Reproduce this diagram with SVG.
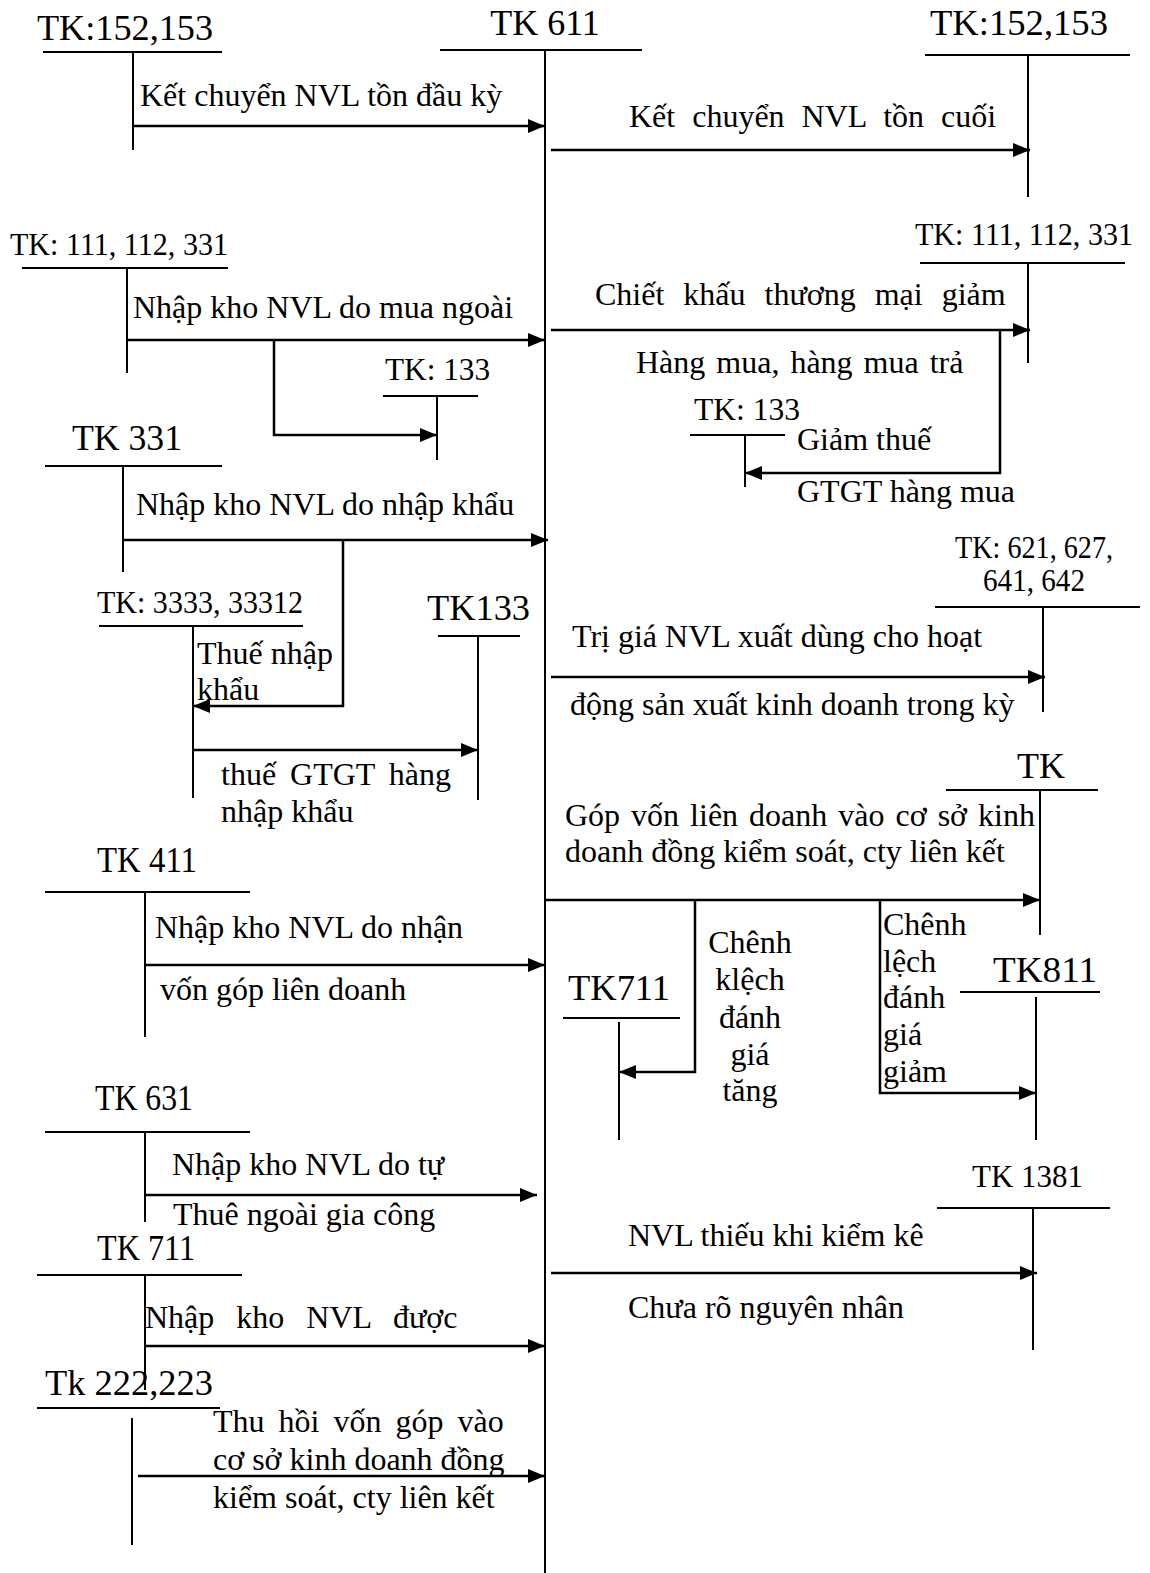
<svg xmlns="http://www.w3.org/2000/svg" width="1150" height="1573" viewBox="0 0 1150 1573">
<style>
text{font-family:"Liberation Serif","Times New Roman",serif;fill:#000}
.h{font-size:36px}
.hc{font-size:32px}
.t{font-size:32px}
.acc line{stroke:#000;stroke-width:2}
.c{stroke:#000;stroke-width:2.5;fill:none}
</style>
<defs>
<marker id="ah" markerUnits="userSpaceOnUse" markerWidth="17" markerHeight="14" refX="17" refY="7" orient="auto">
<path d="M0,0 L17,7 L0,14 z" fill="#000"/>
</marker>
</defs>
<rect width="1150" height="1573" fill="#fff"/>

<g id="tk611" class="acc">
<text class="h" x="545" y="35" text-anchor="middle">TK 611</text>
<line x1="440" y1="50" x2="642" y2="50"/>
<line x1="545" y1="50" x2="545" y2="1573"/>
</g>
<g id="tk152l" class="acc">
<text class="h" x="37" y="40" textLength="176" lengthAdjust="spacingAndGlyphs">TK:152,153</text>
<line x1="43" y1="52" x2="222" y2="52"/>
<line x1="133" y1="52" x2="133" y2="150"/>
</g>
<g id="tk152r" class="acc">
<text class="h" x="930" y="35" textLength="178" lengthAdjust="spacingAndGlyphs">TK:152,153</text>
<line x1="925" y1="55" x2="1130" y2="55"/>
<line x1="1028" y1="55" x2="1028" y2="197"/>
</g>
<g id="tk111l" class="acc">
<text class="hc" x="10" y="255" textLength="218" lengthAdjust="spacingAndGlyphs">TK: 111, 112, 331</text>
<line x1="22" y1="268" x2="228" y2="268"/>
<line x1="127" y1="268" x2="127" y2="373"/>
</g>
<g id="tk133a" class="acc">
<text class="hc" x="385" y="380" textLength="105" lengthAdjust="spacingAndGlyphs">TK: 133</text>
<line x1="383" y1="396" x2="478" y2="396"/>
<line x1="437" y1="396" x2="437" y2="460"/>
</g>
<g id="tk111r" class="acc">
<text class="hc" x="915" y="245" textLength="218" lengthAdjust="spacingAndGlyphs">TK: 111, 112, 331</text>
<line x1="920" y1="263" x2="1125" y2="263"/>
<line x1="1028" y1="263" x2="1028" y2="363"/>
</g>
<g id="tk133b" class="acc">
<text class="hc" x="694" y="420" textLength="106" lengthAdjust="spacingAndGlyphs">TK: 133</text>
<line x1="690" y1="435" x2="785" y2="435"/>
<line x1="745" y1="435" x2="745" y2="487"/>
</g>
<g id="tk331" class="acc">
<text class="h" x="72" y="450" textLength="110" lengthAdjust="spacingAndGlyphs">TK 331</text>
<line x1="45" y1="466" x2="222" y2="466"/>
<line x1="123" y1="466" x2="123" y2="572"/>
</g>
<g id="tk3333" class="acc">
<text class="hc" x="97" y="613" textLength="206" lengthAdjust="spacingAndGlyphs">TK: 3333, 33312</text>
<line x1="99" y1="626" x2="303" y2="626"/>
<line x1="193" y1="626" x2="193" y2="798"/>
</g>
<g id="tk133c" class="acc">
<text class="h" x="427" y="620" textLength="103" lengthAdjust="spacingAndGlyphs">TK133</text>
<line x1="438" y1="636" x2="520" y2="636"/>
<line x1="478" y1="636" x2="478" y2="800"/>
</g>
<g id="tk621" class="acc">
<text class="hc" x="955" y="558" font-size="30" textLength="158" lengthAdjust="spacingAndGlyphs">TK: 621, 627,</text>
<text class="hc" x="983" y="591" font-size="30" textLength="102" lengthAdjust="spacingAndGlyphs">641, 642</text>
<line x1="935" y1="607" x2="1140" y2="607"/>
<line x1="1043" y1="607" x2="1043" y2="712"/>
</g>
<g id="tk222r" class="acc">
<text class="h" x="1017" y="778">TK</text>
<line x1="946" y1="790" x2="1098" y2="790"/>
<line x1="1040" y1="790" x2="1040" y2="935"/>
</g>
<g id="tk711r" class="acc">
<text class="h" x="568" y="1000" textLength="102" lengthAdjust="spacingAndGlyphs">TK711</text>
<line x1="563" y1="1018" x2="680" y2="1018"/>
<line x1="619" y1="1022" x2="619" y2="1140"/>
</g>
<g id="tk811" class="acc">
<text class="h" x="993" y="982" textLength="104" lengthAdjust="spacingAndGlyphs">TK811</text>
<line x1="960" y1="992" x2="1100" y2="992"/>
<line x1="1036" y1="997" x2="1036" y2="1140"/>
</g>
<g id="tk411" class="acc">
<text class="h" x="97" y="872" textLength="100" lengthAdjust="spacingAndGlyphs">TK 411</text>
<line x1="45" y1="892" x2="250" y2="892"/>
<line x1="145" y1="892" x2="145" y2="1037"/>
</g>
<g id="tk631" class="acc">
<text class="h" x="95" y="1110" textLength="98" lengthAdjust="spacingAndGlyphs">TK 631</text>
<line x1="45" y1="1132" x2="250" y2="1132"/>
<line x1="145" y1="1132" x2="145" y2="1222"/>
</g>
<g id="tk1381" class="acc">
<text class="hc" x="972" y="1187" textLength="111" lengthAdjust="spacingAndGlyphs">TK 1381</text>
<line x1="937" y1="1208" x2="1110" y2="1208"/>
<line x1="1033" y1="1208" x2="1033" y2="1350"/>
</g>
<g id="tk711l" class="acc">
<text class="h" x="97" y="1260" textLength="98" lengthAdjust="spacingAndGlyphs">TK 711</text>
<line x1="37" y1="1275" x2="242" y2="1275"/>
<line x1="145" y1="1275" x2="145" y2="1390"/>
</g>
<g id="tk222l" class="acc">
<text class="h" x="45" y="1395" textLength="168" lengthAdjust="spacingAndGlyphs">Tk 222,223</text>
<line x1="37" y1="1408" x2="220" y2="1408"/>
<line x1="132" y1="1418" x2="132" y2="1545"/>
</g>

<g id="connectors">
<line class="c" x1="133" y1="126" x2="545" y2="126" marker-end="url(#ah)"/>
<line class="c" x1="551" y1="150" x2="1030" y2="150" marker-end="url(#ah)"/>
<line class="c" x1="127" y1="340" x2="545" y2="340" marker-end="url(#ah)"/>
<polyline class="c" points="274,340 274,435 437,435" marker-end="url(#ah)"/>
<line class="c" x1="551" y1="330" x2="1030" y2="330" marker-end="url(#ah)"/>
<polyline class="c" points="1000,330 1000,473 745,473" marker-end="url(#ah)"/>
<line class="c" x1="123" y1="540" x2="548" y2="540" marker-end="url(#ah)"/>
<polyline class="c" points="343,540 343,706 193,706" marker-end="url(#ah)"/>
<line class="c" x1="193" y1="750" x2="478" y2="750" marker-end="url(#ah)"/>
<line class="c" x1="551" y1="677" x2="1045" y2="677" marker-end="url(#ah)"/>
<line class="c" x1="545" y1="900" x2="1040" y2="900" marker-end="url(#ah)"/>
<polyline class="c" points="695,900 695,1072 619,1072" marker-end="url(#ah)"/>
<polyline class="c" points="880,900 880,1093 1036,1093" marker-end="url(#ah)"/>
<line class="c" x1="145" y1="965" x2="545" y2="965" marker-end="url(#ah)"/>
<line class="c" x1="145" y1="1195" x2="537" y2="1195" marker-end="url(#ah)"/>
<line class="c" x1="551" y1="1273" x2="1037" y2="1273" marker-end="url(#ah)"/>
<line class="c" x1="145" y1="1346" x2="545" y2="1346" marker-end="url(#ah)"/>
<line class="c" x1="138" y1="1476" x2="545" y2="1476" marker-end="url(#ah)"/>

<text class="t" x="140" y="106">Kết chuyển NVL tồn đầu kỳ</text>
<text class="t" x="629" y="127" word-spacing="9">Kết chuyển NVL tồn cuối</text>
<text class="t" x="133" y="318">Nhập kho NVL do mua ngoài</text>
<text class="t" x="595" y="305" word-spacing="11">Chiết khấu thương mại giảm</text>
<text class="t" x="636" y="373" word-spacing="3">Hàng mua, hàng mua trả</text>
<text class="t" x="797" y="450">Giảm thuế</text>
<text class="t" x="797" y="502">GTGT hàng mua</text>
<text class="t" x="136" y="515">Nhập kho NVL do nhập khẩu</text>
<text class="t" x="197" y="664">Thuế nhập</text>
<text class="t" x="197" y="700">khẩu</text>
<text class="t" x="221" y="785" word-spacing="6">thuế GTGT hàng</text>
<text class="t" x="221" y="822">nhập khẩu</text>
<text class="t" x="572" y="647">Trị giá NVL xuất dùng cho hoạt</text>
<text class="t" x="570" y="715">động sản xuất kinh doanh trong kỳ</text>
<text class="t" x="565" y="826" word-spacing="3">Góp vốn liên doanh vào cơ sở kinh</text>
<text class="t" x="565" y="862">doanh đồng kiểm soát, cty liên kết</text>
<text class="t" x="750" y="953" text-anchor="middle">Chênh</text>
<text class="t" x="750" y="990" text-anchor="middle">klệch</text>
<text class="t" x="750" y="1028" text-anchor="middle">đánh</text>
<text class="t" x="750" y="1065" text-anchor="middle">giá</text>
<text class="t" x="750" y="1101" text-anchor="middle">tăng</text>
<text class="t" x="883" y="935">Chênh</text>
<text class="t" x="883" y="972">lệch</text>
<text class="t" x="883" y="1008">đánh</text>
<text class="t" x="883" y="1045">giá</text>
<text class="t" x="883" y="1082">giảm</text>
<text class="t" x="155" y="938">Nhập kho NVL do nhận</text>
<text class="t" x="160" y="1000">vốn góp liên doanh</text>
<text class="t" x="172" y="1175">Nhập kho NVL do tự</text>
<text class="t" x="173" y="1225">Thuê ngoài gia công</text>
<text class="t" x="628" y="1246">NVL thiếu khi kiểm kê</text>
<text class="t" x="628" y="1318">Chưa rõ nguyên nhân</text>
<text class="t" x="145" y="1328" word-spacing="14">Nhập kho NVL được</text>
<text class="t" x="213" y="1432" word-spacing="6">Thu hồi vốn góp vào</text>
<text class="t" x="213" y="1470">cơ sở kinh doanh đồng</text>
<text class="t" x="213" y="1508">kiểm soát, cty liên kết</text>
</g>
</svg>
